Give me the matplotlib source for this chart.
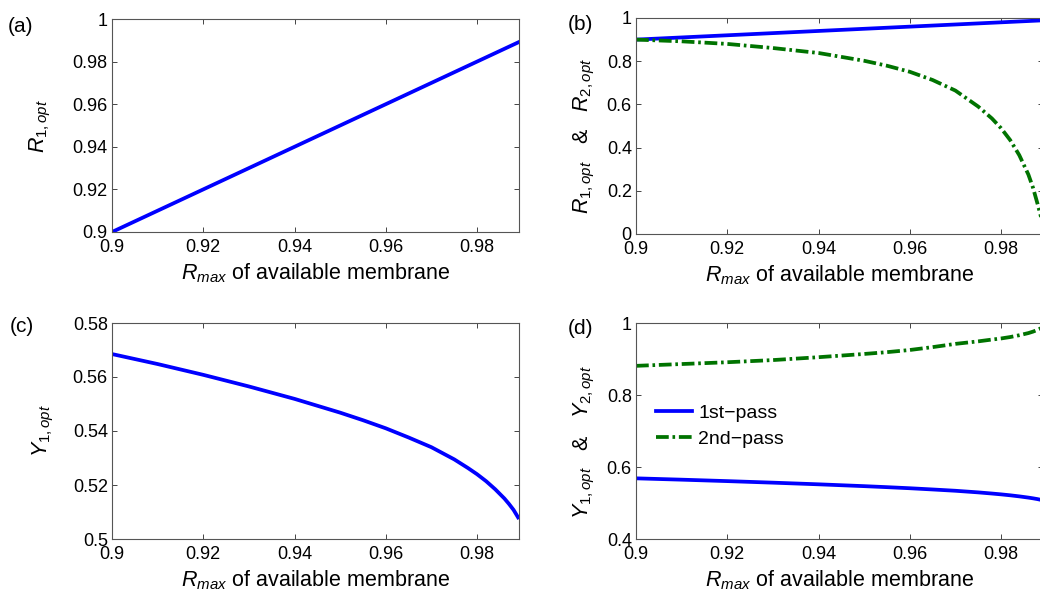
import numpy as np
import matplotlib
matplotlib.use("Agg")
import matplotlib.pyplot as plt
from matplotlib.ticker import FuncFormatter

plt.rcParams['font.family'] = ['Liberation Sans', 'DejaVu Sans']
plt.rcParams['mathtext.fontset'] = 'custom'
plt.rcParams['mathtext.rm'] = 'Liberation Sans'
plt.rcParams['mathtext.it'] = 'Liberation Sans:italic'
plt.rcParams['mathtext.bf'] = 'Liberation Sans:bold'

# ---- data ----
r_max = [0.900, 0.910, 0.920, 0.930, 0.940, 0.950, 0.955, 0.960, 0.965, 0.970,
         0.975, 0.978, 0.980, 0.982, 0.984, 0.986, 0.987, 0.988, 0.989]
r1_opt = [0.900, 0.910, 0.920, 0.930, 0.940, 0.950, 0.955, 0.960, 0.965, 0.970,
          0.975, 0.978, 0.980, 0.982, 0.984, 0.986, 0.987, 0.988, 0.989]
r2_opt = [0.900, 0.892, 0.880, 0.861, 0.838, 0.802, 0.779, 0.751, 0.713, 0.664,
          0.590, 0.535, 0.490, 0.435, 0.365, 0.275, 0.215, 0.140, 0.060]
y1_opt = [0.5685, 0.5648, 0.5608, 0.5565, 0.5519, 0.5468, 0.5440, 0.5410, 0.5376,
          0.5340, 0.5295, 0.5263, 0.5240, 0.5214, 0.5184, 0.5150, 0.5130, 0.5108, 0.5080]
y2_opt = [0.881, 0.886, 0.891, 0.897, 0.905, 0.914, 0.919, 0.925, 0.933, 0.942,
          0.949, 0.954, 0.957, 0.961, 0.966, 0.972, 0.976, 0.981, 0.987]

x_ticks = [0.90, 0.92, 0.94, 0.96, 0.98]
legend_labels = ["1st\u2212pass", "2nd\u2212pass"]

W, H = 1040, 603
fig = plt.figure(figsize=(W / 100, H / 100), dpi=100)


def ax_at(left, top, right, bottom):
    return fig.add_axes([left / W, 1 - bottom / H, (right - left) / W, (bottom - top) / H])


ax_a = ax_at(112, 19, 519, 232)
ax_b = ax_at(636, 18, 1043, 234)
ax_c = ax_at(112, 323, 519, 539)
ax_d = ax_at(636, 323, 1043, 539)

blue = (0, 0, 1)
green = (0, 0.45, 0)
lw = 2.7
dashdot = (0, (3.4, 1.0, 0.7, 1.0))
fmt = FuncFormatter(lambda v, p: ('%g' % round(v, 4)))

LAB = 15.5
xlabel = r"$R_{max}$ of available membrane"

for ax in (ax_a, ax_b, ax_c, ax_d):
    ax.set_xlim(0.9, 0.9892)
    ax.set_xticks(x_ticks)
    ax.xaxis.set_major_formatter(fmt)
    ax.yaxis.set_major_formatter(fmt)
    ax.tick_params(direction='in', length=3.5, width=0.7, top=True, right=True,
                   labelsize=13, colors='#444444', labelcolor='black')
    ax.tick_params(axis='x', pad=5)
    ax.tick_params(axis='y', pad=3)
    for s in ax.spines.values():
        s.set_color('#555555')
        s.set_linewidth(0.8)
    ax.set_xlabel(xlabel, fontsize=LAB, labelpad=4)

# (a)
ax_a.plot(r_max, r1_opt, color=blue, lw=lw)
ax_a.set_ylim(0.9, 1.0)
ax_a.set_yticks([0.9, 0.92, 0.94, 0.96, 0.98, 1.0])
ax_a.set_ylabel(r"$R_{\mathit{1,opt}}$", fontsize=LAB, labelpad=14)

# (b)
ax_b.plot(r_max, r1_opt, color=blue, lw=lw)
ax_b.plot(r_max, r2_opt, color=green, lw=lw, linestyle=dashdot)
ax_b.set_ylim(0, 1)
ax_b.set_yticks([0, 0.2, 0.4, 0.6, 0.8, 1.0])
ax_b.set_ylabel(r"$R_{\mathit{1,opt}}$   &   $R_{\mathit{2,opt}}$", fontsize=LAB, labelpad=7)
ax_b.yaxis.label.set_y(0.455)

# (c)
ax_c.plot(r_max, y1_opt, color=blue, lw=lw)
ax_c.set_ylim(0.5, 0.58)
ax_c.set_yticks([0.5, 0.52, 0.54, 0.56, 0.58])
ax_c.set_ylabel(r"$Y_{\mathit{1,opt}}$", fontsize=LAB, labelpad=12)

# (d)
l1, = ax_d.plot(r_max, y1_opt, color=blue, lw=lw)
l2, = ax_d.plot(r_max, y2_opt, color=green, lw=lw, linestyle=dashdot)
ax_d.set_ylim(0.4, 1.0)
ax_d.set_yticks([0.4, 0.6, 0.8, 1.0])
ax_d.set_ylabel(r"$Y_{\mathit{1,opt}}$   &   $Y_{\mathit{2,opt}}$", fontsize=LAB, labelpad=7)
ax_d.yaxis.label.set_y(0.45)
ax_d.legend([l1, l2], legend_labels, loc='upper left', bbox_to_anchor=(0.048, 0.625),
            frameon=False, fontsize=14, handlelength=1.9, handletextpad=0.3,
            borderpad=0, borderaxespad=0, labelspacing=0.45)

for lab, x, y in [("(a)", 8, 27), ("(b)", 568, 25), ("(c)", 10, 327), ("(d)", 568, 328)]:
    fig.text(x / W, 1 - y / H, lab, fontsize=15, ha='left', va='center')

fig.savefig("out.png", dpi=100)
